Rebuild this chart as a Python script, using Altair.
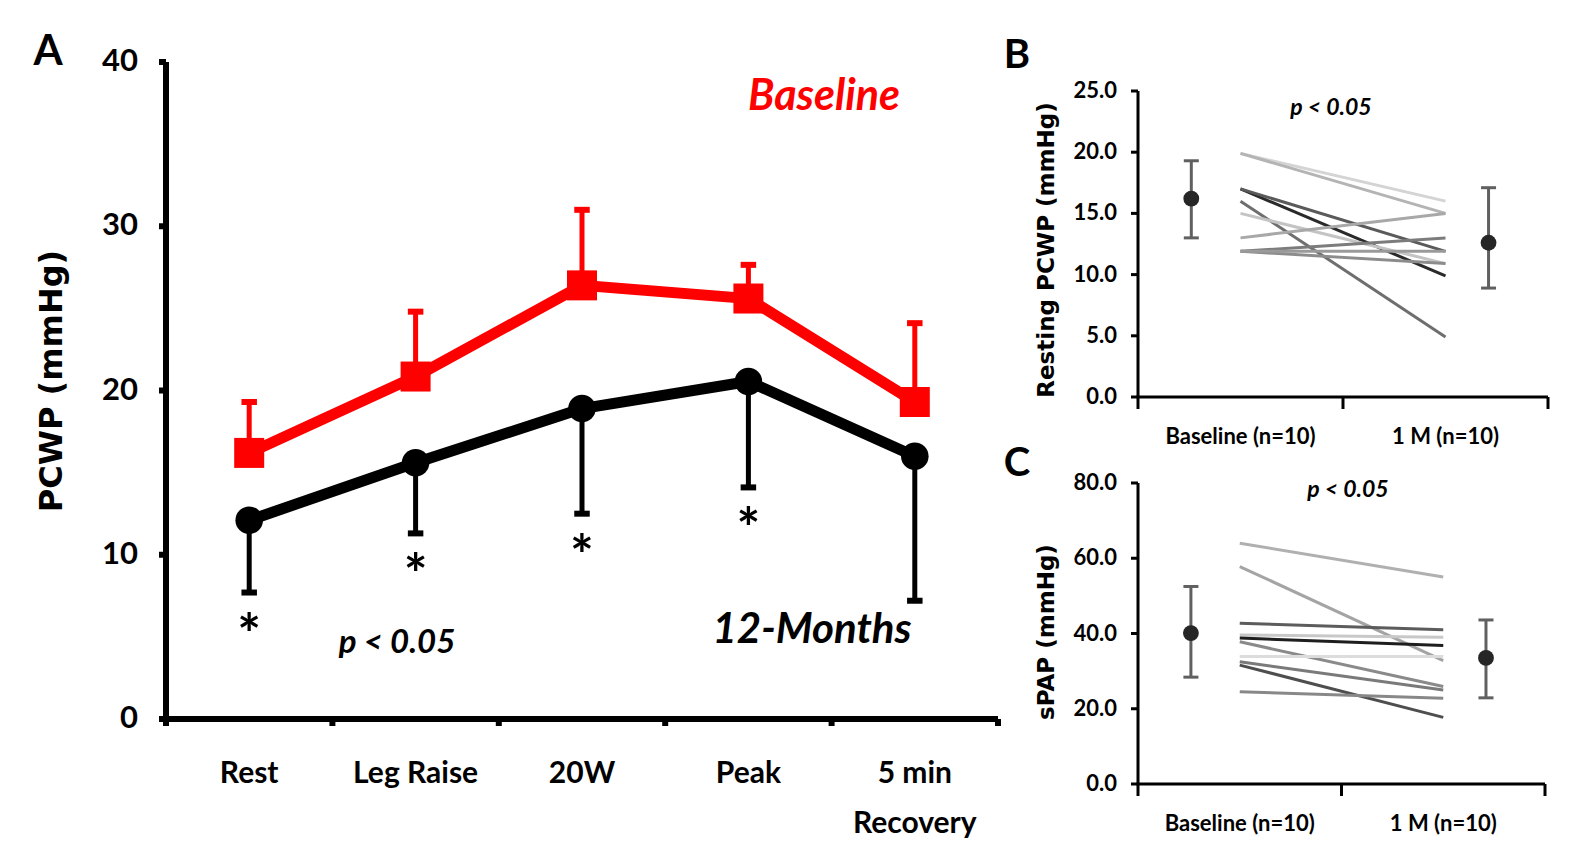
import altair as alt
import pandas as pd

FONT = "Lato"
TFONT = "DejaVu Sans"

# ---------------- Panel A data ----------------
stages = ["Rest", "Leg Raise", "20W", "Peak", "5 min Recovery"]
stage_labels = ["Rest", "Leg Raise", "20W", "Peak", "5 min\nRecovery"]
base_mean = [16.2, 20.85, 26.4, 25.6, 19.3]
base_upper = [19.3, 24.8, 31.0, 27.65, 24.1]
m12_mean = [12.1, 15.6, 18.9, 20.55, 16.0]
m12_lower = [7.7, 11.3, 12.5, 14.1, 7.2]
sig_marks = ["*", "*", "*", "*", ""]
a_yticks = [0, 10, 20, 30, 40]

# ---------------- Panel B data ----------------
pair_groups = ["Baseline (n=10)", "1 M (n=10)"]
b_base = [19.9, 19.9, 17.0, 17.0, 16.0, 15.0, 13.0, 11.9, 11.9, 11.9]
b_1m = [16.0, 15.0, 9.9, 11.9, 4.9, 10.9, 15.0, 13.0, 10.9, 11.9]
b_shades = ["#d4d4d4", "#b4b4b4", "#2a2a2a", "#5a5a5a", "#6e6e6e",
            "#c4c4c4", "#a8a8a8", "#7c7c7c", "#8c8c8c", "#9a9a9a"]
b_mean = [16.2, 12.6]
b_lo = [13.0, 8.9]
b_hi = [19.3, 17.1]
b_yticks = [0, 5, 10, 15, 20, 25]

# ---------------- Panel C data ----------------
c_base = [64.0, 57.8, 42.7, 39.6, 38.8, 37.8, 33.9, 32.5, 31.6, 24.5]
c_1m = [55.0, 32.8, 41.0, 39.0, 36.8, 25.9, 33.9, 25.0, 17.7, 22.8]
c_shades = ["#b0b0b0", "#a4a4a4", "#5c5c5c", "#c8c8c8", "#1e1e1e",
            "#8a8a8a", "#dcdcdc", "#7a7a7a", "#4e4e4e", "#888888"]
c_mean = [40.1, 33.5]
c_lo = [28.4, 22.9]
c_hi = [52.5, 43.6]
c_yticks = [0, 20, 40, 60, 80]

RED = "#FF0000"
CAP = "M-1,0L1,0"


def note(text, x, y, size, color="black", italic=False, font=FONT, weight="bold", angle=0):
    return alt.Chart(pd.DataFrame({"t": [text]})).mark_text(
        font=font, fontSize=size, fontWeight=weight,
        fontStyle="italic" if italic else "normal",
        color=color, align="center", baseline="middle", angle=angle,
    ).encode(text="t:N", x=alt.value(x), y=alt.value(y))


def y_axis(scale_y, ticks, labels, lw, tick_len, label_x, font_size):
    df = pd.DataFrame({"v": ticks, "lab": labels})
    dom = pd.DataFrame({"lo": [ticks[0]], "hi": [ticks[-1]]})
    return [
        alt.Chart(dom).mark_rule(color="black", strokeWidth=lw).encode(
            x=alt.value(0), y=alt.Y("lo:Q", scale=scale_y, axis=None), y2="hi:Q"),
        alt.Chart(df).mark_rule(color="black", strokeWidth=lw).encode(
            x=alt.value(-tick_len), x2=alt.value(0),
            y=alt.Y("v:Q", scale=scale_y, axis=None)),
        alt.Chart(df).mark_text(align="right", baseline="middle", font=FONT,
                                fontSize=font_size, fontWeight="bold", color="black").encode(
            x=alt.value(label_x), y=alt.Y("v:Q", scale=scale_y, axis=None), text="lab:N"),
    ]


def x_axis(scale_x, scale_y, field, cats, labels, width, height, lw, tick_len,
           label_y, font_size, line_h):
    dfc = pd.DataFrame({field: cats, "lab": labels})
    dom = pd.DataFrame({"lo": [0]})
    return [
        alt.Chart(dom).mark_rule(color="black", strokeWidth=lw).encode(
            x=alt.value(-lw / 2), x2=alt.value(width),
            y=alt.Y("lo:Q", scale=scale_y, axis=None)),
        alt.Chart(dfc).mark_rule(color="black", strokeWidth=lw).encode(
            x=alt.X(f"{field}:N", scale=scale_x, bandPosition=0, axis=None),
            y=alt.value(height), y2=alt.value(height + tick_len)),
        alt.Chart(dfc.tail(1)).mark_rule(color="black", strokeWidth=lw).encode(
            x=alt.X(f"{field}:N", scale=scale_x, bandPosition=1, axis=None),
            y=alt.value(height), y2=alt.value(height + tick_len)),
        alt.Chart(dfc).mark_text(align="center", baseline="top", lineBreak="\n",
                                 lineHeight=line_h, font=FONT, fontSize=font_size,
                                 fontWeight="bold", color="black").encode(
            x=alt.X(f"{field}:N", scale=scale_x, bandPosition=0.5, axis=None),
            y=alt.value(label_y), text="lab:N"),
    ]


# ---------------- Panel A ----------------
AW, AH = 832, 657
dfA = pd.DataFrame({"stage": stages, "base": base_mean, "base_hi": base_upper,
                    "m12": m12_mean, "m12_lo": m12_lower, "sig": sig_marks})

scaleAx = alt.Scale(type="band", domain=stages, paddingInner=0, paddingOuter=0)
scaleAy = alt.Scale(domain=[0, 40])


def xa():
    return alt.X("stage:N", scale=scaleAx, bandPosition=0.5, axis=None)


def ya(field):
    return alt.Y(f"{field}:Q", scale=scaleAy, axis=None)


baseA = alt.Chart(dfA)
a_layers = [
    # invisible frame that fixes the whole canvas extent
    alt.Chart(pd.DataFrame({"t": [0]})).mark_rect(opacity=0).encode(
        x=alt.value(-158), x2=alt.value(1400), y=alt.value(-54), y2=alt.value(794)),
]
a_layers += y_axis(scaleAy, a_yticks, [str(v) for v in a_yticks], 6, 7, -28, 31)
a_layers += x_axis(scaleAx, scaleAy, "stage", stages, stage_labels, AW, AH, 6, 7,
                   AH + 40, 30, 50)
a_layers += [
    baseA.mark_line(color=RED, strokeWidth=11).encode(x=xa(), y=ya("base")),
    baseA.mark_line(color="black", strokeWidth=11).encode(x=xa(), y=ya("m12")),
    baseA.mark_rule(color=RED, strokeWidth=5).encode(x=xa(), y=ya("base"), y2="base_hi:Q"),
    baseA.mark_point(shape=CAP, size=240, strokeWidth=6, color=RED, opacity=1, filled=False)
         .encode(x=xa(), y=ya("base_hi")),
    baseA.mark_rule(color="black", strokeWidth=5).encode(x=xa(), y=ya("m12"), y2="m12_lo:Q"),
    baseA.mark_point(shape=CAP, size=240, strokeWidth=6, color="black", opacity=1, filled=False)
         .encode(x=xa(), y=ya("m12_lo")),
    baseA.mark_square(size=900, color=RED, opacity=1).encode(x=xa(), y=ya("base")),
    baseA.mark_circle(size=760, color="black", opacity=1).encode(x=xa(), y=ya("m12")),
    baseA.mark_text(font=FONT, fontSize=56, fontWeight="bold", color="black",
                    baseline="alphabetic", dy=61).encode(x=xa(), y=ya("m12_lo"), text="sig:N"),
    note("PCWP (mmHg)", -114, 319, 32, font=TFONT, angle=270),
    note("A", 40 - 158, 44 - 54, 42),
    note("Baseline", 816 - 158, 89 - 54, 43, color=RED, italic=True),
    note("12-Months", 804 - 158, 622 - 54, 42, italic=True),
    note("p < 0.05", 389 - 158, 635 - 54, 33, italic=True),
]
panelA = alt.layer(*a_layers).properties(width=AW, height=AH)


# ---------------- Panels B and C ----------------
def pair_panel(base_vals, m_vals, shades, means, los, his, width, height, yrange, ymax,
               yvals, title, title_y, p_xy, letter_xy, letter):
    rows = []
    for i in range(len(base_vals)):
        rows.append({"id": i, "group": pair_groups[0], "value": base_vals[i], "shade": shades[i]})
        rows.append({"id": i, "group": pair_groups[1], "value": m_vals[i], "shade": shades[i]})
    dfp = pd.DataFrame(rows)
    dfm = pd.DataFrame({"group": pair_groups, "mean": means, "lo": los, "hi": his})

    sx = alt.Scale(type="band", domain=pair_groups, paddingInner=0, paddingOuter=0)
    sy = alt.Scale(domain=[0, ymax], range=yrange)

    layers = []
    layers += y_axis(sy, yvals, [f"{v:.1f}" for v in yvals], 3, 7, -21, 22)
    layers += x_axis(sx, sy, "group", pair_groups, pair_groups, width, height, 3, 12,
                     height + 30, 22, 26)
    layers.append(alt.Chart(dfp).mark_line(strokeWidth=3).encode(
        x=alt.X("group:N", scale=sx, bandPosition=0.5, axis=None),
        y=alt.Y("value:Q", scale=sy, axis=None),
        detail="id:N",
        color=alt.Color("shade:N", scale=None),
    ))
    for g, bp in zip(pair_groups, [0.26, 0.71]):
        mc = alt.Chart(dfm).transform_filter(alt.datum.group == g)
        xm = alt.X("group:N", scale=sx, bandPosition=bp, axis=None)
        layers += [
            mc.mark_rule(color="#606060", strokeWidth=3).encode(
                x=xm, y=alt.Y("lo:Q", scale=sy, axis=None), y2="hi:Q"),
            mc.mark_point(shape=CAP, size=225, strokeWidth=3, color="#606060", opacity=1,
                          filled=False).encode(x=xm, y=alt.Y("lo:Q", scale=sy, axis=None)),
            mc.mark_point(shape=CAP, size=225, strokeWidth=3, color="#606060", opacity=1,
                          filled=False).encode(x=xm, y=alt.Y("hi:Q", scale=sy, axis=None)),
            mc.mark_circle(size=250, color="#262626", opacity=1).encode(
                x=xm, y=alt.Y("mean:Q", scale=sy, axis=None)),
        ]
    layers.append(note(title, -91, title_y, 23, font=TFONT, angle=270))
    layers.append(note("p < 0.05", p_xy[0], p_xy[1], 23, italic=True))
    layers.append(note(letter, letter_xy[0], letter_xy[1], 40))
    return alt.layer(*layers).properties(width=width, height=height)


panelB = pair_panel(b_base, b_1m, b_shades, b_mean, b_lo, b_hi,
                    410, 335, [335, 29], 25, b_yticks,
                    "Resting PCWP (mmHg)", 188, (193, 46), (-121, -6), "B")
panelC = pair_panel(c_base, c_1m, c_shades, c_mean, c_lo, c_hi,
                    407, 367, [367, 66], 80, c_yticks,
                    "sPAP (mmHg)", 215, (210, 73), (-121, 47), "C")

right = alt.vconcat(panelB, panelC, spacing=20, bounds="flush")
chart = alt.hconcat(panelA, right, spacing=140, bounds="flush").properties(
    padding=0,
).configure(background="white").configure_view(strokeWidth=0)

chart.save("out.html", embed_options={"renderer": "svg", "actions": False})
